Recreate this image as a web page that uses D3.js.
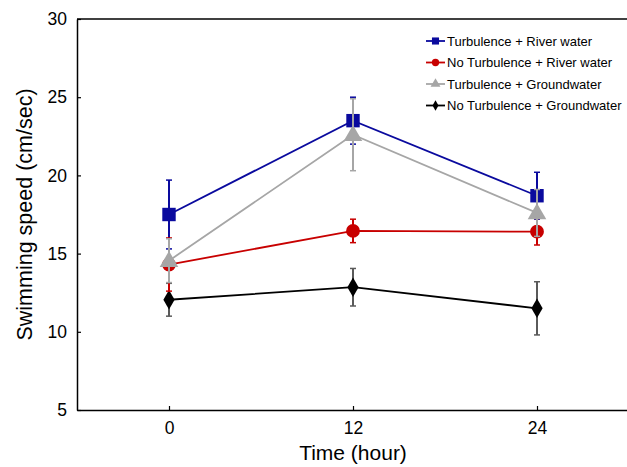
<!DOCTYPE html>
<html lang="en">
<head>
    <meta charset="UTF-8">
    <title>Swimming speed</title>
    <style>
        body { margin: 0; background: #fff; }
        svg text { font-family: "Liberation Sans", Arial, sans-serif; }
    </style>
</head>
<body>
    <div id="chart"></div>
    <script src="https://d3js.org/d3.v7.min.js"></script>
    <script>
        // data
        const times = [0, 12, 24];
        const seriesNames = [
            "Turbulence + River water",
            "No Turbulence + River water",
            "Turbulence + Groundwater",
            "No Turbulence + Groundwater"
        ];
        const turbRiver = [17.5, 23.5, 18.7];
        const turbRiverErr = [2.2, 1.5, 1.5];
        const noTurbRiver = [14.3, 16.45, 16.4];
        const noTurbRiverErr = [1.7, 0.75, 0.85];
        const turbGround = [14.55, 22.6, 17.6];
        const turbGroundErr = [1.4, 2.3, 1.5];
        const noTurbGround = [12.05, 12.85, 11.5];
        const noTurbGroundErr = [1.05, 1.2, 1.7];
        const yTicks = [5, 10, 15, 20, 25, 30];

        const W = 627, H = 467;
        const margin = { top: 19, right: 0, bottom: 57, left: 77 };

        const x = d3.scaleLinear().domain([-6, 30]).range([margin.left, 629]);
        const y = d3.scaleLinear().domain([5, 30]).range([H - margin.bottom, margin.top]);

        const svg = d3.select("#chart").append("svg")
            .attr("width", W)
            .attr("height", H);

        // axes (ticks point inward)
        svg.append("g")
            .attr("transform", `translate(0,${y(5)})`)
            .call(d3.axisBottom(x).tickValues(times).tickSizeInner(-4).tickSizeOuter(0).tickPadding(12))
            .call(g => g.select(".domain").attr("stroke-width", 1.5))
            .call(g => g.selectAll(".tick line").attr("stroke-width", 1.2))
            .call(g => g.selectAll("text").attr("font-size", 17.5).attr("fill", "#000"));

        svg.append("g")
            .attr("transform", `translate(${margin.left},0)`)
            .call(d3.axisLeft(y).tickValues(yTicks).tickSizeInner(-4).tickSizeOuter(0).tickPadding(10))
            .call(g => g.select(".domain").attr("stroke-width", 1.5))
            .call(g => g.selectAll(".tick line").attr("stroke-width", 1.2))
            .call(g => g.selectAll("text").attr("font-size", 17.5).attr("fill", "#000"));

        // top frame line
        svg.append("line")
            .attr("x1", margin.left).attr("x2", W)
            .attr("y1", y(30)).attr("y2", y(30))
            .attr("stroke", "#000").attr("stroke-width", 1.5);

        svg.append("text")
            .attr("x", x(12))
            .attr("y", 460)
            .attr("text-anchor", "middle")
            .attr("font-size", 21)
            .text("Time (hour)");

        svg.append("text")
            .attr("transform", `translate(32,${(y(5) + y(30)) / 2}) rotate(-90)`)
            .attr("text-anchor", "middle")
            .attr("font-size", 21.5)
            .text("Swimming speed (cm/sec)");

        const series = [
            { name: seriesNames[3], vals: noTurbGround, err: noTurbGroundErr, color: "#000000", errColor: "#5a5a5a", shape: d3.symbolDiamond, size: 110 },
            { name: seriesNames[0], vals: turbRiver, err: turbRiverErr, color: "#0a0a9e", errColor: "#0a0a9e", shape: d3.symbolSquare, size: 180 },
            { name: seriesNames[1], vals: noTurbRiver, err: noTurbRiverErr, color: "#c80000", errColor: "#c80000", shape: d3.symbolCircle, size: 150 },
            { name: seriesNames[2], vals: turbGround, err: turbGroundErr, color: "#a6a6a6", errColor: "#a6a6a6", shape: d3.symbolTriangle, size: 150 }
        ];

        const line = d3.line().x((d, i) => x(times[i])).y(d => y(d));

        series.forEach(s => {
            const g = svg.append("g");
            g.append("path")
                .attr("d", line(s.vals))
                .attr("fill", "none")
                .attr("stroke", s.color)
                .attr("stroke-width", 1.8);
            s.vals.forEach((v, i) => {
                const cx = x(times[i]);
                const lo = y(v - s.err[i]), hi = y(v + s.err[i]);
                g.append("line").attr("x1", cx).attr("x2", cx).attr("y1", lo).attr("y2", hi)
                    .attr("stroke", s.errColor).attr("stroke-width", 2);
                [lo, hi].forEach(yy => g.append("line")
                    .attr("x1", cx - 3).attr("x2", cx + 3).attr("y1", yy).attr("y2", yy)
                    .attr("stroke", s.errColor).attr("stroke-width", 1.5));
            });
            g.selectAll("path.pt").data(s.vals).join("path")
                .attr("class", "pt")
                .attr("transform", (d, i) => `translate(${x(times[i])},${y(d) + (s.shape === d3.symbolTriangle ? 1 : 0)})`)
                .attr("d", d3.symbol().type(s.shape).size(s.size))
                .attr("fill", s.color);
        });

        // legend
        const legendOrder = [1, 2, 3, 0];
        const legend = svg.append("g").attr("transform", "translate(426,41)");
        legendOrder.forEach((k, i) => {
            const s = series[k];
            const row = legend.append("g").attr("transform", `translate(0,${i * 21.5})`);
            row.append("line").attr("x1", 0).attr("x2", 19).attr("y1", 0).attr("y2", 0)
                .attr("stroke", s.color).attr("stroke-width", 1.8);
            row.append("path")
                .attr("transform", "translate(9.5,0)")
                .attr("d", d3.symbol().type(s.shape).size(s.size * 0.28))
                .attr("fill", s.color);
            row.append("text")
                .attr("x", 21).attr("y", 4.5)
                .attr("font-size", 13)
                .text(s.name);
        });
    </script>
</body>
</html>
